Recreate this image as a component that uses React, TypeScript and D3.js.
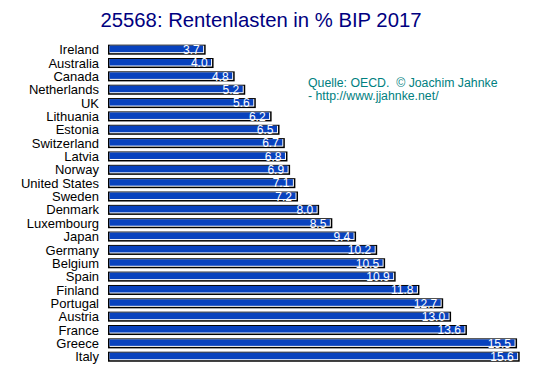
import React from "react";
import * as d3 from "d3";

const countries = ["Ireland","Australia","Canada","Netherlands","UK","Lithuania","Estonia","Switzerland","Latvia","Norway","United States","Sweden","Denmark","Luxembourg","Japan","Germany","Belgium","Spain","Finland","Portugal","Austria","France","Greece","Italy"];
const values = [3.7,4.0,4.8,5.2,5.6,6.2,6.5,6.7,6.8,6.9,7.1,7.2,8.0,8.5,9.4,10.2,10.5,10.9,11.8,12.7,13.0,13.6,15.5,15.6];
const title = "25568: Rentenlasten in % BIP 2017";
const sourceLines = ["Quelle: OECD.  \u00A9 Joachim Jahnke", "- http://www.jjahnke.net/"];

export default function App() {
  const W = 553, H = 376;
  const x = d3.scaleLinear().domain([0, 15.6]).range([108, 519.7]);
  const y = d3.scaleBand().domain(countries).range([43, 363.4]).paddingInner(0.25).paddingOuter(0.125);
  const font = "Arial, 'Liberation Sans', sans-serif";
  return (
    <div style={{ position: "absolute", left: 0, top: 0 }}>
      <svg width={W} height={H} style={{ display: "block", background: "#fff" }}>
        <text x={261} y={27} textAnchor="middle" fontFamily={font} fontSize={20.3} fill="#000080">{title}</text>
        {sourceLines.map((s, i) => (
          <text key={i} x={308} y={86.5 + i * 13.5} fontFamily={font} fontSize={12.3} fill="#008080" style={{ whiteSpace: "pre" }}>{s}</text>
        ))}
        {countries.map((c, i) => {
          const y0 = y(c)!;
          const h = y.bandwidth();
          const x0 = x(0), x1 = x(values[i]);
          const w = x1 - x0;
          return (
            <g key={c}>
              <text x={99} y={y0 + h / 2 + 4.6} textAnchor="end" fontFamily={font} fontSize={13} fill="#000">{c}</text>
              <rect x={x0} y={y0} width={w} height={h} fill="#000" />
              <rect x={x0 + 1.5} y={y0 + 1} width={w - 3} height={h - 2.5} fill="#fff" />
              <rect x={x0 + 1.5} y={y0 + 1} width={w - 4} height={h - 3.5} fill="#0842BE" />
              <text x={x1 - 6} y={y0 + h / 2 + 4.3} textAnchor="end" fontFamily={font} fontSize={12} fill="#fff">{values[i].toFixed(1)}</text>
            </g>
          );
        })}
      </svg>
    </div>
  );
}
